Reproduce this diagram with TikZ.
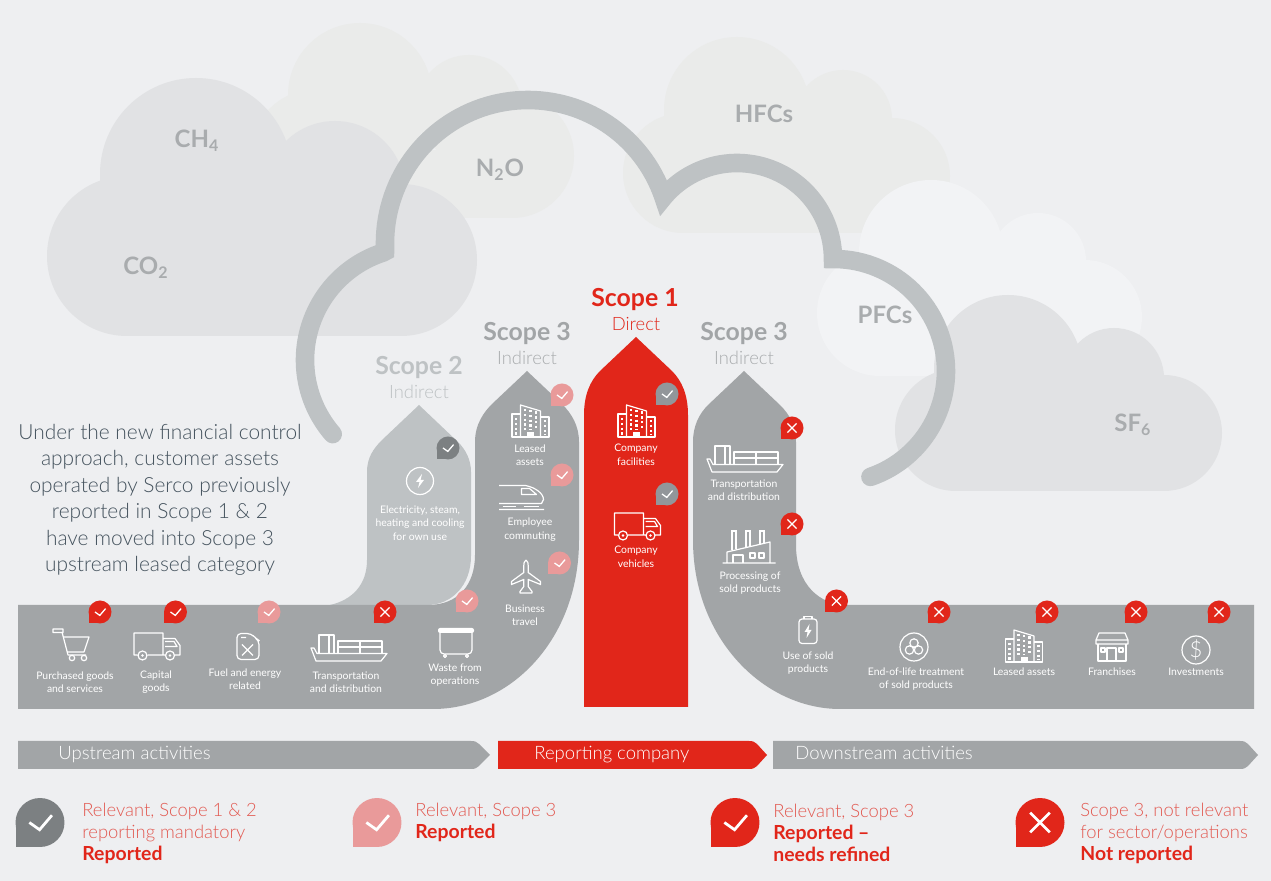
\documentclass[tikz,border=0pt]{standalone}
\usepackage{fontspec}
\setmainfont{Lato Light}[BoldFont=Lato Bold]
\newfontfamily\labfont{Lato}
\usetikzlibrary{shapes,arrows}
\definecolor{paper}{HTML}{EEEFF1}
\definecolor{cloudA}{HTML}{E1E2E4}
\definecolor{cloudB}{HTML}{EAEBEA}
\definecolor{cloudC}{HTML}{F2F3F5}
\definecolor{arcgrey}{HTML}{BEC2C4}
\definecolor{bandgrey}{HTML}{A2A5A7}
\definecolor{gasgrey}{HTML}{A9ACAE}
\definecolor{serco}{HTML}{E1261A}
\definecolor{sercolight}{HTML}{E25A52}
\definecolor{pinpink}{HTML}{E99A9A}
\definecolor{pindark}{HTML}{7C8082}
\definecolor{pingrey}{HTML}{92969A}
\definecolor{inktext}{HTML}{45535E}
\newcommand{\pincheck}[4][1]{\begin{scope}[shift={(#2,#3)},scale=#1]
\fill[#4] (0,0) circle (11.5);
\fill[#4] (-11.5,0) rectangle (0,11.5);
\draw[white,line width=#1*0.65pt] (-5,0) -- (-0.2,3.4) -- (5.6,-3.4);
\end{scope}}
\newcommand{\pincross}[4][1]{\begin{scope}[shift={(#2,#3)},scale=#1]
\fill[#4] (0,0) circle (11.5);
\fill[#4] (-11.5,0) rectangle (0,11.5);
\draw[white,line width=#1*0.65pt] (-4.6,-4.6) -- (4.6,4.6) (-4.6,4.6) -- (4.6,-4.6);
\end{scope}}
\newcommand{\legendbold}[1]{\textcolor{serco}{\fontsize{9.7}{11}\selectfont\bfseries #1}}
\tikzset{
truckicon/.pic={
\draw[ico] (6,8.5) -- (6,-13.5) -- (-23,-13.5) -- (-23,8.5) -- (-19.5,8.5) (-9.5,8.5) -- (8.5,8.5) (17.5,8.5) -- (23,8.5) -- (23,-1) -- (18,-8) -- (6,-8);
\draw[ico] (-14.5,9) circle (4.5) (13,9) circle (4.5) (8,-5) -- (17,-5) -- (20,0) -- (8,0);
\fill[white] (-14.5,9) circle (1.3) (13,9) circle (1.3);
},
shipicon/.pic={
\draw[ico] (-38,0) -- (-35,0) -- (-32,5.5) -- (38,5.5) -- (32,13) -- (-33,13) -- cycle;
\draw[ico] (-30,5.5) -- (-30,-13) -- (-15,-13) -- (-15,5.5) (-20,-13) -- (-20,5.5);
\draw[ico] (-11,-7) rectangle (33,5.5) (-11,-1) -- (33,-1) (11,-7) -- (11,5.5);
},
buildingicon/.pic={
\draw[ico] (-10,16) -- (-10,-16) -- (10,-10) -- (10,16);
\draw[ico] (-10,-7) -- (-18.5,-7) -- (-18.5,16) -- (18.5,16) -- (18.5,-4) -- (10,-4);
\draw[white,line width=1.2pt,dash pattern=on 1.2pt off 1.2pt] (-5.5,-12) -- (-5.5,9) (0,-11) -- (0,9) (5.5,-9.5) -- (5.5,9) (-14.5,-3) -- (-14.5,14) (14.5,-1) -- (14.5,14);
\fill[white] (-3.5,11) rectangle (3.5,16);
},
cart/.pic={
\draw[ico] (-18,-16) rectangle (-8,-12.5) (-9,-13) -- (-3,10) -- (15,10);
\draw[ico] (-8,-8) -- (18,-8) -- (13,7) -- (-4,7);
\draw[ico] (1,13) circle (2.7) (13,13) circle (2.7);
},
fuelcan/.pic={
\draw[ico,rounded corners=2pt] (-11,13) -- (-11,-13) -- (3,-13) -- (8,-8) -- (11,-6) -- (11,13) -- cycle;
\draw[ico] (-7,-9) -- (-2,-9) (-6,-2) -- (5,9) (5,-2) -- (-6,9);
},
wastebin/.pic={
\fill[white,rounded corners=1pt] (-18,-15) rectangle (18,-10);
\draw[ico,rounded corners=2pt] (-16,-10) -- (-16,11) -- (16,11) -- (16,-10);
\draw[ico] (-11,13) circle (1.5) (11,13) circle (1.5);
},
bolticon/.pic={
\draw[ico] (0,0) circle (13.5);
\fill[white] (2,-7) -- (-4,1) -- (-0.5,1) -- (-2,7) -- (4,-1) -- (0.5,-1) -- cycle;
},
trainicon/.pic={
\draw[ico] (-22.5,-12) -- (4,-12) .. controls (14,-10) and (22,-4) .. (22,2) -- (20,6) -- (-22.5,6);
\draw[ico] (0,-9) -- (8,-9) -- (15,-3) -- (0,-3) -- cycle (-22.5,12) -- (22.5,12);
\draw[white,line width=0.6pt] (-19,9) -- (-6,9) (2,9) -- (17,9);
},
planeicon/.pic={
\draw[ico] (0,-16.5) .. controls (2,-15) and (2.2,-13) .. (2.2,-11) -- (2.2,-4) -- (14.5,5) -- (14.5,8) -- (2.2,3) -- (2.2,10) -- (6,15) -- (6,16.5) -- (-6,16.5) -- (-6,15) -- (-2.2,10) -- (-2.2,3) -- (-14.5,8) -- (-14.5,5) -- (-2.2,-4) -- (-2.2,-11) .. controls (-2.2,-13) and (-2,-15) .. (0,-16.5);
},
factoryicon/.pic={
\draw[ico] (-26.5,16) -- (26.5,16) (-22,16) -- (-22,5) -- (21,-5) -- (21,16);
\draw[ico] (-16,16) -- (-16,8) -- (-6,8) -- (-6,16) (1,6) rectangle (6,11) (10,6) rectangle (15,11);
\draw[ico] (-18,-16) -- (-12,-16) (-17,-16) -- (-17,3) (-13,-16) -- (-13,2) (-4,-16) -- (2,-16) (-3,-16) -- (-3,0) (1,-16) -- (1,-1) (10,-16) -- (16,-16) (11,-16) -- (11,-3) (15,-16) -- (15,-4);
},
batteryicon/.pic={
\draw[ico,rounded corners=1.5pt] (-9,-11) rectangle (9,13.5);
\draw[ico] (-4,-11) -- (-4,-13.5) -- (4,-13.5) -- (4,-11);
\fill[white] (1.5,-6) -- (-3.5,2) -- (-0.5,2) -- (-1.5,8) -- (3.5,0) -- (0.5,0) -- cycle;
},
recycleicon/.pic={
\draw[ico] (0,0) circle (14);
\draw[ico] (0,-4) circle (4.2) (-4.5,3) circle (4.2) (4.5,3) circle (4.2);
},
shopicon/.pic={
\draw[ico] (-13,-14) -- (13,-14) -- (16,-7) -- (16,-3) -- (-16,-3) -- (-16,-7) -- cycle (-16,-7) -- (16,-7);
\draw[ico] (-14,-3) -- (-14,14) -- (14,14) -- (14,-3) (-5,14) -- (-5,1) -- (4,1) -- (4,14) (-11,1) rectangle (-7,5) (7,1) rectangle (11,5);
},
dollaricon/.pic={
\draw[ico] (0,0) circle (14);
}}
\begin{document}
\begin{tikzpicture}[x=0.5pt,y=-0.5pt]
\tikzstyle{ico} = [white, line width=0.6pt, line join=round]
\tikzstyle{lab} = [white, align=center, font=\labfont\fontsize{5.2}{6.75}\selectfont, inner sep=0pt]
\tikzstyle{gas} = [gasgrey, font=\fontsize{12}{14}\selectfont\bfseries, inner sep=0pt]
\tikzstyle{scopehead} = [font=\fontsize{12.4}{14}\selectfont\bfseries, inner sep=0pt]
\tikzstyle{scopesub} = [font=\fontsize{9.2}{11}\selectfont, inner sep=0pt]
\tikzstyle{banner} = [white, font=\fontsize{9.25}{11}\selectfont, inner sep=0pt, anchor=base west]
\tikzstyle{legend} = [sercolight, align=left, anchor=west, font=\fontsize{9.2}{11}\selectfont, inner sep=0pt]
\useasboundingbox (0,0) rectangle (1271,881);
\fill[paper] (0,0) rectangle (1271,881);
\fill[cloudB] (360,95) circle (72) (469,108) circle (53) (512,156) circle (62) (320,160) circle (72);
\fill[cloudB] (320,150) rectangle (512,218);
\fill[cloudB] (737,110) circle (73) (843,119) circle (49) (892,176) circle (58) (683,173) circle (60);
\fill[cloudB] (683,130) rectangle (892,233);
\fill[cloudC] (931,252) circle (72) (1038,261) circle (48) (1085,317) circle (57) (880,313) circle (63);
\fill[cloudC] (880,260) rectangle (1085,376);
\fill[cloudA] (196,174) circle (96) (335,191) circle (70) (401,260) circle (76) (127,256) circle (80);
\fill[cloudA] (127,190) rectangle (401,336);
\fill[cloudA] (1008,369) circle (74) (1114,378) circle (50) (1164,433) circle (58) (956,430) circle (61);
\fill[cloudA] (956,375) rectangle (1164,491);
\draw[arcgrey,line width=9.3pt,line cap=round,line join=miter]
plot[domain=139:252,samples=50] ({418+113*cos(\x)},{360+113*sin(\x)})
-- (385,251.5)
-- plot[domain=178:341,samples=70] ({528+143*cos(\x)},{243+143*sin(\x)})
-- (663.5,197.3)
-- plot[domain=221:358,samples=50] ({737+96*cos(\x)},{259+96*sin(\x)})
-- (833,259)
-- plot[domain=-89:71,samples=60] ({834+112*cos(\x)},{371+112*sin(\x)});
\node[gas] (ch4) at (197,141) {CH\textsubscript{4}};
\node[gas] (co2) at (146,268) {CO\textsubscript{2}};
\node[gas] (n2o) at (500,170) {N\textsubscript{2}O};
\node[gas] (hfcs) at (764,114) {HFCs};
\node[gas] (pfcs) at (885,315) {PFCs};
\node[gas] (sf6) at (1133,425) {SF\textsubscript{6}};
\fill[arcgrey] (330,605) .. controls (352,600) and (367,585) .. (367,560) -- (367,472) .. controls (367,458) and (373,449) .. (382,440) -- (419,405) -- (458,442) .. controls (466,450) and (471,460) .. (471,472) -- (471,556) .. controls (471,585) and (452,605) .. (427,605) -- cycle;
\fill[bandgrey] (18,605) -- (428,605) .. controls (458,605) and (475,585) .. (475,555) -- (475,442) .. controls (475,424) and (484,412) .. (492,404) -- (527,371) -- (562,404) .. controls (572,414) and (579,426) .. (579,442) -- (579,540) .. controls (579,640) and (510,709) .. (433,709) -- (18,709) -- cycle;
\fill[bandgrey] (693,540) -- (693,442) .. controls (693,426) and (699,414) .. (708,405) -- (744,371) -- (780,405) .. controls (790,415) and (796,426) .. (796,442) -- (796,545) .. controls (796,585) and (820,605) .. (847,605) -- (1254,605) -- (1254,709) -- (840,709) .. controls (765,709) and (693,640) .. (693,540) -- cycle;
\fill[serco] (584,707) -- (584,415) .. controls (584,395) and (590,381) .. (600,371) -- (636,337) -- (672,371) .. controls (682,381) and (688,395) .. (688,415) -- (688,707) -- cycle;
\node[scopehead,serco] (scopeone) at (635,300) {Scope 1};
\node[scopesub,serco] (direct) at (636,324) {Direct};
\node[scopehead,bandgrey] (scopethreeup) at (527,334) {Scope 3};
\node[scopesub,gasgrey] (indirectup) at (527,358) {Indirect};
\node[scopehead,arcgrey] (scopetwo) at (419,368) {Scope 2};
\node[scopesub,arcgrey] (indirecttwo) at (419,392) {Indirect};
\node[scopehead,bandgrey] (scopethreedown) at (744,334) {Scope 3};
\node[scopesub,gasgrey] (indirectdown) at (744,358) {Indirect};
\node[inktext,align=center,font=\fontsize{10.45}{13.25}\selectfont,inner sep=0pt] (note) at (160,500) {Under the new financial control\\approach, customer assets\\operated by Serco previously\\reported in Scope 1 \& 2\\have moved into Scope 3\\upstream leased category};
\pic at (71,645) {cart};
\pic at (157,646.5) {truckicon};
\pic at (248,646.5) {fuelcan};
\pic at (349,648) {shipicon};
\pic at (456,643) {wastebin};
\pic at (420,481) {bolticon};
\pic at (530.5,421) {buildingicon};
\pic at (521.5,497.5) {trainicon};
\pic at (526,576.5) {planeicon};
\pic at (636.5,421) {buildingicon};
\pic at (637.5,526.5) {truckicon};
\pic at (745,459) {shipicon};
\pic at (749,547) {factoryicon};
\pic at (808,630) {batteryicon};
\pic at (914,647) {recycleicon};
\pic at (1024,646) {buildingicon};
\pic at (1112,647) {shopicon};
\pic at (1196,650) {dollaricon};
\node[white,font=\fontsize{11}{13}\selectfont,inner sep=0pt] (dollar) at (1196,650) {\$};
\node[lab] (purchased) at (75,682) {Purchased goods\\and services};
\node[lab] (capital) at (156,682) {Capital\\goods};
\node[lab] (fuel) at (245,679) {Fuel and energy\\related};
\node[lab] (transportup) at (346,682) {Transportation\\and distribution};
\node[lab] (waste) at (455,675) {Waste from\\operations};
\node[lab] (electricity) at (420,523) {Electricity, steam,\\heating and cooling\\for own use};
\node[lab] (leasedup) at (530,455) {Leased\\assets};
\node[lab] (commuting) at (530,529.5) {Employee\\commuting};
\node[lab] (travel) at (525,615.5) {Business\\travel};
\node[lab] (facilities) at (636,455) {Company\\facilities};
\node[lab] (vehicles) at (636,557) {Company\\vehicles};
\node[lab] (transportdown) at (744,490) {Transportation\\and distribution};
\node[lab] (processing) at (750,583) {Processing of\\sold products};
\node[lab] (useof) at (808,663) {Use of sold\\products};
\node[lab] (endoflife) at (916,679) {End-of-life treatment\\of sold products};
\node[lab] (leaseddown) at (1024,672) {Leased assets};
\node[lab] (franchises) at (1112,672) {Franchises};
\node[lab] (investments) at (1196,672) {Investments};
\pincheck{100}{612}{serco}
\pincheck{175.5}{612}{serco}
\pincheck{269}{612}{pinpink}
\pincross{385}{612}{serco}
\pincheck{467}{601}{pinpink}
\pincheck{448}{448}{pindark}
\pincheck{562}{395}{pinpink}
\pincheck{562}{475}{pinpink}
\pincheck{559.5}{563}{pinpink}
\pincheck{667}{394}{pingrey}
\pincheck{667}{494}{pingrey}
\pincross{792}{428}{serco}
\pincross{792}{524}{serco}
\pincross{836.5}{601}{serco}
\pincross{939}{612}{serco}
\pincross{1047}{612}{serco}
\pincross{1136}{612}{serco}
\pincross{1219}{612}{serco}
\fill[bandgrey] (18,741) -- (471,741) .. controls (475,741) and (477,742) .. (479,744) -- (490,755) -- (479,766) .. controls (477,768) and (475,769) .. (471,769) -- (18,769) -- cycle;
\fill[serco] (498,741) -- (749,741) .. controls (753,741) and (755,742) .. (757,744) -- (767,755) -- (757,766) .. controls (755,768) and (753,769) .. (749,769) -- (498,769) -- cycle;
\fill[bandgrey] (773,741) -- (1240,741) .. controls (1244,741) and (1246,742) .. (1248,744) -- (1258,755) -- (1248,766) .. controls (1246,768) and (1244,769) .. (1240,769) -- (773,769) -- cycle;
\node[banner] (upstream) at (58,760) {Upstream activities};
\node[banner] (reporting) at (534,760) {Reporting company};
\node[banner] (downstream) at (795,760) {Downstream activities};
\pincheck[2.13]{40}{822.5}{pindark}
\pincheck[2.13]{377}{822.5}{pinpink}
\pincheck[2.13]{735}{822.5}{serco}
\pincross[2.13]{1040}{822.5}{serco}
\node[legend] (legendone) at (82,833) {Relevant, Scope 1 \& 2\\reporting mandatory\\\legendbold{Reported}};
\node[legend,anchor=north west] (legendtwo) at (415,803) {Relevant, Scope 3\\\legendbold{Reported}};
\node[legend] (legendthree) at (773,833) {Relevant, Scope 3\\\legendbold{Reported –}\\\legendbold{needs refined}};
\node[legend] (legendfour) at (1080,833) {Scope 3, not relevant\\for sector/operations\\\legendbold{Not reported}};
\end{tikzpicture}
\end{document}
